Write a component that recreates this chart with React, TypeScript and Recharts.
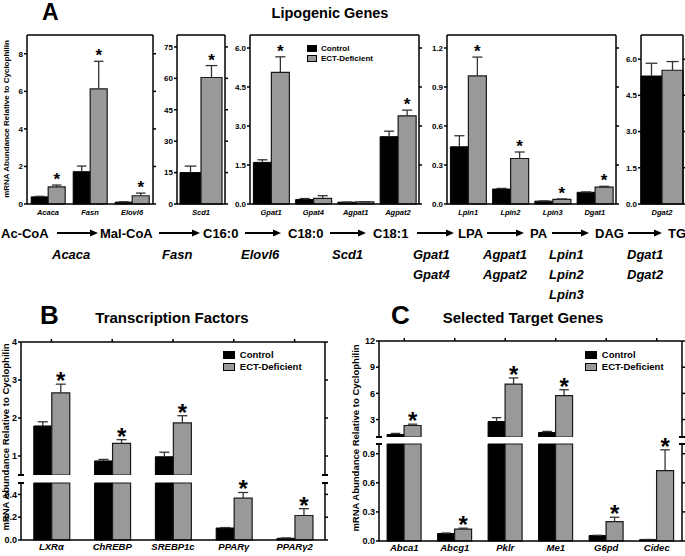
import React from 'react';
import { BarChart, Bar, XAxis, YAxis } from 'recharts';

const FONT = 'Arial, "Liberation Sans", Helvetica, sans-serif';

// Panel A – lipogenic genes (five small boxes)
const a1Genes = ['Acaca', 'Fasn', 'Elovl6'];
const a1Control = [0.38, 1.72, 0.1];
const a1ControlErr = [0.03, 0.3, 0.02];
const a1Ect = [0.91, 6.13, 0.44];
const a1EctErr = [0.1, 1.47, 0.14];
const a1Sig = [true, true, true];

const a2Genes = ['Scd1'];
const a2Control = [15.0];
const a2ControlErr = [3.1];
const a2Ect = [60.4];
const a2EctErr = [5.7];
const a2Sig = [true];

const a3Genes = ['Gpat1', 'Gpat4', 'Agpat1', 'Agpat2'];
const a3Control = [1.6, 0.17, 0.07, 2.59];
const a3ControlErr = [0.1, 0.04, 0.005, 0.21];
const a3Ect = [5.06, 0.22, 0.08, 3.39];
const a3EctErr = [0.6, 0.1, 0.01, 0.22];
const a3Sig = [true, false, false, true];

const a4Genes = ['Lpin1', 'Lpin2', 'Lpin3', 'Dgat1'];
const a4Control = [0.44, 0.115, 0.022, 0.09];
const a4ControlErr = [0.085, 0.005, 0.002, 0.003];
const a4Ect = [0.985, 0.35, 0.036, 0.13];
const a4EctErr = [0.145, 0.05, 0.003, 0.006];
const a4Sig = [true, true, true, true];

const a5Genes = ['Dgat2'];
const a5Control = [5.3];
const a5ControlErr = [0.53];
const a5Ect = [5.54];
const a5EctErr = [0.36];
const a5Sig = [false];

// Panel B – transcription factors
const bGenes = ['LXRα', 'ChREBP', 'SREBP1c', 'PPARγ', 'PPARγ2'];
const bControl = [1.79, 0.87, 0.98, 0.105, 0.015];
const bControlErr = [0.11, 0.04, 0.12, 0.004, 0.003];
const bEct = [2.66, 1.33, 1.87, 0.367, 0.215];
const bEctErr = [0.23, 0.1, 0.19, 0.05, 0.06];
const bSig = [true, true, true, true, true];

// Panel C – selected target genes
const cGenes = ['Abca1', 'Abcg1', 'Pklr', 'Me1', 'G6pd', 'Cidec'];
const cControl = [1.29, 0.077, 2.77, 1.52, 0.056, 0.014];
const cControlErr = [0.12, 0.005, 0.45, 0.12, 0.003, 0.002];
const cEct = [2.32, 0.122, 7.07, 5.75, 0.2, 0.725];
const cEctErr = [0.15, 0.01, 0.7, 0.67, 0.045, 0.215];
const cSig = [true, true, true, true, true, true];

// pathway row
const steps = ['Ac-CoA', 'Mal-CoA', 'C16:0', 'C18:0', 'C18:1', 'LPA', 'PA', 'DAG', 'TG'];
const enzymes = [['Acaca'], ['Fasn'], ['Elovl6'], ['Scd1'], ['Gpat1', 'Gpat4'], ['Agpat1', 'Agpat2'], ['Lpin1', 'Lpin2', 'Lpin3'], ['Dgat1', 'Dgat2']];
const stepX = [1, 100, 203, 288, 373, 458, 530, 595, 668];
const arrowX = [[57, 98], [159, 200], [245, 281], [330, 366], [417, 454], [487, 524], [552, 589], [628, 662]];
const enzymeX = [52, 162, 241, 332, 413, 483, 549, 627];

type Row = { name: string; c: number | null; ce: number | null; e: number | null; ee: number | null; sig: boolean };

function rows(g: string[], c: number[], ce: number[], e: number[], ee: number[], sig: boolean[]): Row[] {
  return g.map((name, i) => ({ name, c: c[i], ce: ce[i], e: e[i], ee: ee[i], sig: sig[i] }));
}

// split for broken axis: upper keeps values above the break, lower clamps at the break
function upper(r: Row[], lo: number): Row[] {
  return r.map((d) => ({
    ...d,
    c: d.c! > lo ? d.c : null,
    ce: d.c! > lo ? d.ce : null,
    e: d.e! > lo ? d.e : null,
    ee: d.e! > lo ? d.ee : null,
  }));
}
function lower(r: Row[], brk: number): Row[] {
  return r.map((d) => ({
    ...d,
    c: Math.min(d.c!, brk),
    ce: d.c! > brk ? null : d.ce,
    e: Math.min(d.e!, brk),
    ee: d.e! > brk ? null : d.ee,
  }));
}

const errShape = (key: 'ce' | 'ee', starFs: number, starDy: number) => (p: any) => {
  const { x, y, width, height, payload } = p;
  if (!payload || payload[key] == null || !isFinite(y) || !isFinite(height)) return <g />;
  const cx = x + width / 2;
  const cap = width * 0.28;
  return (
    <g>
      <line x1={cx} x2={cx} y1={y + height} y2={y} stroke="#333" strokeWidth={1.3} />
      <line x1={cx - cap} x2={cx + cap} y1={y} y2={y} stroke="#333" strokeWidth={1.3} />
      {key === 'ee' && payload.sig && (
        <text x={cx} y={y + starDy} textAnchor="middle" fontSize={starFs} fontWeight="bold" fill="#000" fontFamily={FONT}>
          *
        </text>
      )}
    </g>
  );
};

type PlotProps = {
  x: number; y: number; w: number; h: number;
  data: Row[]; domain: [number, number]; ticks: number[]; fmt: (v: number) => string;
  tickFs: number; labelFs: number; starFs: number; starDy: number;
  gap: number | string; top: 'plain' | 'ticks' | 'none'; labels: boolean; clip?: boolean;
};

function Plot(p: PlotProps) {
  const yw = 30;
  const rw = 6;
  const th = p.top === 'none' ? 0 : 5;
  const mt = p.top === 'none' ? 24 : 0;
  const bh = p.labels ? 20 : 0;
  const line = { stroke: '#000', strokeWidth: 1.5 };
  return (
    <div style={{ position: 'absolute', left: p.x - yw, top: p.y - th - mt }}>
      <BarChart
        width={yw + p.w + rw}
        height={mt + th + p.h + bh}
        data={p.data}
        margin={{ top: mt, right: 0, bottom: 0, left: 0 }}
        barCategoryGap={p.gap}
        barGap={0}
      >
        <XAxis
          dataKey="name"
          xAxisId={0}
          hide={!p.labels}
          height={bh}
          axisLine={line}
          tickLine={false}
          tickSize={0}
          tickMargin={p.labelFs > 8 ? 3 : 6}
          interval={0}
          tick={{ fontSize: p.labelFs, fontWeight: 'bold', fontStyle: 'italic', fill: '#000', fontFamily: FONT }}
        />
        <XAxis
          dataKey="name"
          xAxisId="t"
          orientation="top"
          hide={p.top === 'none'}
          height={th}
          axisLine={line}
          tickLine={p.top === 'ticks' ? line : false}
          tickSize={3}
          interval={0}
          tickFormatter={() => ''}
        />
        <YAxis
          yAxisId={0}
          type="number"
          width={yw}
          domain={p.domain}
          ticks={p.ticks}
          allowDataOverflow={!!p.clip}
          interval={0}
          tickFormatter={p.fmt}
          axisLine={line}
          tickLine={line}
          tickSize={3}
          tickMargin={1}
          tick={{ fontSize: p.tickFs, fontWeight: 'bold', fill: '#000', fontFamily: FONT }}
        />
        <YAxis
          yAxisId="r"
          orientation="right"
          type="number"
          width={rw}
          domain={p.domain}
          ticks={p.ticks}
          allowDataOverflow
          interval={0}
          tickFormatter={() => ''}
          axisLine={line}
          tickLine={line}
          tickSize={3}
        />
        <Bar dataKey="c" stackId="c" fill="#000" stroke="#000" strokeWidth={1} isAnimationActive={false} />
        <Bar dataKey="ce" stackId="c" shape={errShape('ce', p.starFs, p.starDy)} isAnimationActive={false} />
        <Bar dataKey="e" stackId="e" fill="#999999" stroke="#1a1a1a" strokeWidth={1.2} isAnimationActive={false} />
        <Bar dataKey="ee" stackId="e" shape={errShape('ee', p.starFs, p.starDy)} isAnimationActive={false} />
      </BarChart>
    </div>
  );
}

function Cap({ x, y }: { x: number; y: number }) {
  return <div style={{ position: 'absolute', left: x - 3, top: y - 0.75, width: 6, height: 1.5, background: '#000' }} />;
}

function Legend({ x, y, sq, gapY, fs }: { x: number; y: number; sq: [number, number]; gapY: number; fs: number }) {
  const items = [
    { label: 'Control', fill: '#000' },
    { label: 'ECT-Deficient', fill: '#999999' },
  ];
  return (
    <>
      {items.map((it, i) => (
        <div key={it.label} style={{ position: 'absolute', left: x, top: y + i * gapY, height: sq[1], display: 'flex', alignItems: 'center' }}>
          <div style={{ width: sq[0], height: sq[1], background: it.fill, border: '1px solid #000', boxSizing: 'border-box' }} />
          <span style={{ marginLeft: sq[0] * 0.4, fontSize: fs, fontWeight: 'bold', fontFamily: FONT, whiteSpace: 'nowrap', lineHeight: 1 }}>
            {it.label}
          </span>
        </div>
      ))}
    </>
  );
}

const f0 = (v: number) => String(v);
const f1 = (v: number) => v.toFixed(1);
const yLabel = 'mRNA Abundance Relative to Cyclophilin';

export default function App() {
  const bRows = rows(bGenes, bControl, bControlErr, bEct, bEctErr, bSig);
  const cRows = rows(cGenes, cControl, cControlErr, cEct, cEctErr, cSig);
  const aCommon = { tickFs: 8, labelFs: 7.5, starFs: 17, starDy: 0, top: 'plain' as const, labels: true, y: 35, h: 169 };
  const bcCommon = { tickFs: 9, labelFs: 9.5, starFs: 24, starDy: 5 };

  return (
    <div style={{ position: 'absolute', left: 0, top: 0, width: 685, height: 556, background: '#fff', fontFamily: FONT, overflow: 'hidden' }}>
      <svg width={685} height={556} style={{ position: 'absolute', left: 0, top: 0 }} fontFamily={FONT}>
        <text x={42} y={20} fontSize={23} fontWeight="bold">A</text>
        <text x={330} y={17.5} fontSize={14.5} fontWeight="bold" textAnchor="middle">Lipogenic Genes</text>
        <text x={40} y={324} fontSize={26} fontWeight="bold">B</text>
        <text x={172} y={323} fontSize={15} fontWeight="bold" textAnchor="middle">Transcription Factors</text>
        <text x={391} y={324} fontSize={26} fontWeight="bold">C</text>
        <text x={523} y={323} fontSize={15} fontWeight="bold" textAnchor="middle">Selected Target Genes</text>

        <text x={6} y={119} fontSize={8} fontWeight="bold" textAnchor="middle" dominantBaseline="central" transform="rotate(-90 6 119)">{yLabel}</text>
        <text x={5} y={437} fontSize={9.5} fontWeight="bold" textAnchor="middle" dominantBaseline="central" transform="rotate(-90 5 437)">{yLabel}</text>
        <text x={355} y={438} fontSize={9.5} fontWeight="bold" textAnchor="middle" dominantBaseline="central" transform="rotate(-90 355 438)">{yLabel}</text>

        {steps.map((s, i) => (
          <text key={s} x={stepX[i]} y={238} fontSize={13} fontWeight="bold">{s}</text>
        ))}
        {arrowX.map(([x1, x2], i) => (
          <g key={i}>
            <line x1={x1} x2={x2 - 6} y1={233} y2={233} stroke="#000" strokeWidth={2} />
            <polygon points={`${x2},233 ${x2 - 8},229.5 ${x2 - 8},236.5`} fill="#000" />
          </g>
        ))}
        {enzymes.map((list, i) =>
          list.map((g, j) => (
            <text key={g} x={enzymeX[i]} y={258.5 + j * 20} fontSize={13} fontWeight="bold" fontStyle="italic">{g}</text>
          ))
        )}
      </svg>

      <Plot {...aCommon} x={27} w={126} data={rows(a1Genes, a1Control, a1ControlErr, a1Ect, a1EctErr, a1Sig)} domain={[0, 9]} ticks={[0, 2, 4, 6, 8]} fmt={f0} gap="10%" />
      <Plot {...aCommon} x={177} w={48} data={rows(a2Genes, a2Control, a2ControlErr, a2Ect, a2EctErr, a2Sig)} domain={[0, 80.7]} ticks={[0, 15, 30, 45, 60, 75]} fmt={f0} gap={3} />
      <Plot {...aCommon} x={250} w={169} data={rows(a3Genes, a3Control, a3ControlErr, a3Ect, a3EctErr, a3Sig)} domain={[0, 6.5]} ticks={[0, 1.5, 3, 4.5, 6]} fmt={f1} gap="8%" />
      <Plot {...aCommon} x={447} w={169} data={rows(a4Genes, a4Control, a4ControlErr, a4Ect, a4EctErr, a4Sig)} domain={[0, 1.3]} ticks={[0, 0.3, 0.6, 0.9, 1.2]} fmt={f1} gap="8%" />
      <Plot {...aCommon} x={641} w={42} data={rows(a5Genes, a5Control, a5ControlErr, a5Ect, a5EctErr, a5Sig)} domain={[0, 7]} ticks={[0, 1.5, 3, 4.5, 6]} fmt={f1} gap={0} />
      <Legend x={307} y={45} sq={[10, 7]} gapY={10} fs={8} />

      <Plot {...bcCommon} x={21} y={342} w={304} h={133} data={upper(bRows, 0.5)} domain={[0.5, 4]} ticks={[1, 2, 3, 4]} fmt={f0} gap="21%" top="ticks" labels={false} clip />
      <Plot {...bcCommon} x={21} y={483} w={304} h={57} data={lower(bRows, 0.5)} domain={[0, 0.5]} ticks={[0, 0.2, 0.4]} fmt={f1} gap="21%" top="none" labels />
      <Cap x={21} y={475} />
      <Cap x={325} y={475} />
      <Cap x={21} y={483} />
      <Cap x={325} y={483} />
      <Legend x={223} y={351} sq={[12, 8]} gapY={12} fs={9.5} />

      <Plot {...bcCommon} x={379} y={341} w={303} h={96} data={upper(cRows, 1)} domain={[1, 12]} ticks={[3, 6, 9, 12]} fmt={f0} gap="16%" top="ticks" labels={false} clip />
      <Plot {...bcCommon} x={379} y={444} w={303} h={97} data={lower(cRows, 1)} domain={[0, 1]} ticks={[0, 0.3, 0.6, 0.9]} fmt={f1} gap="16%" top="none" labels />
      <Cap x={379} y={437} />
      <Cap x={682} y={437} />
      <Cap x={379} y={444} />
      <Cap x={682} y={444} />
      <Legend x={585} y={351} sq={[12, 8]} gapY={12} fs={9.5} />
    </div>
  );
}
